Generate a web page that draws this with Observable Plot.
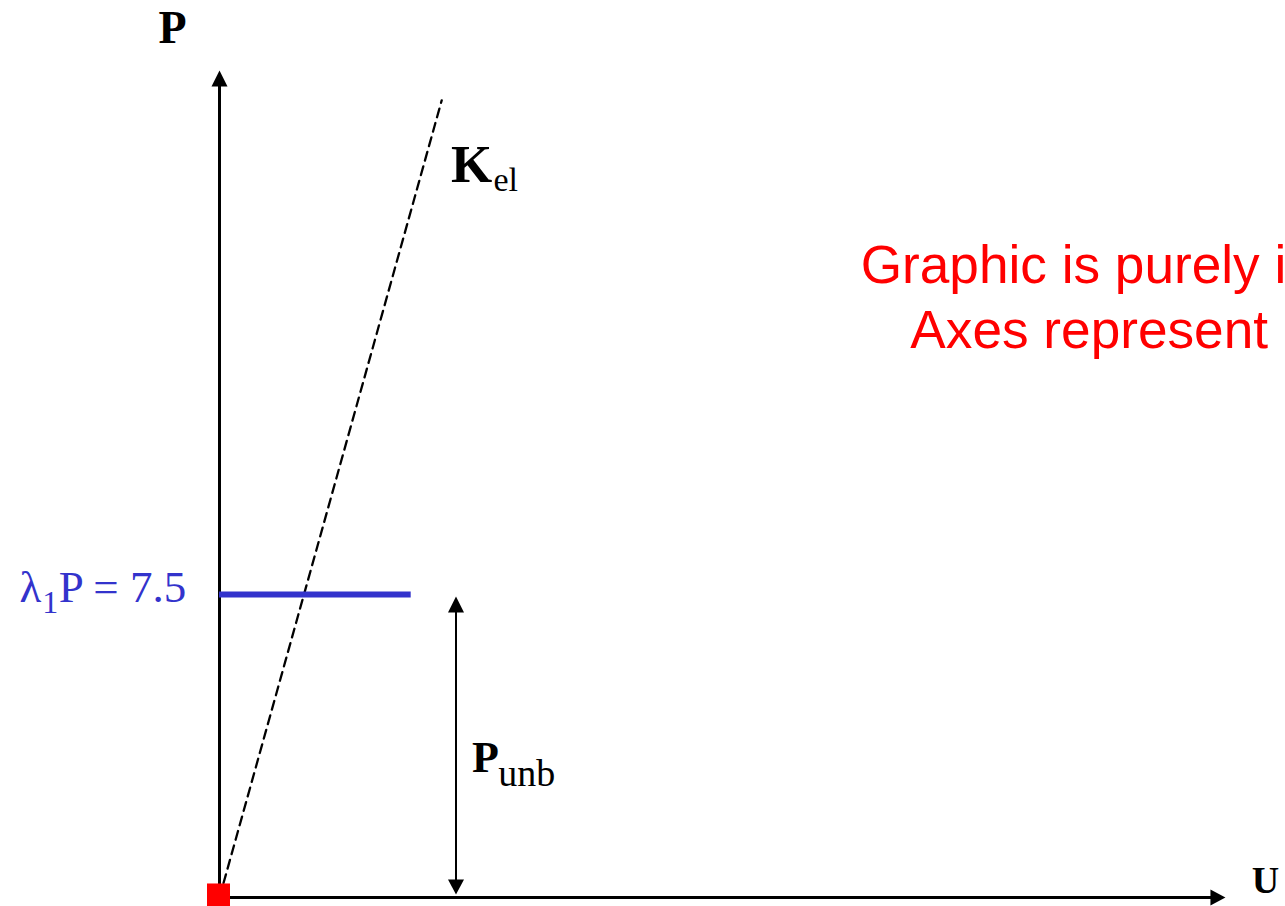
<!DOCTYPE html>
<html><head><meta charset="utf-8">
<script src="https://cdn.jsdelivr.net/npm/d3@7"></script>
<script src="https://cdn.jsdelivr.net/npm/@observablehq/plot@0.6"></script>
<style>html,body{margin:0;padding:0;background:#fff;overflow:hidden;} #chart svg{display:block;}</style>
</head><body><div id="chart"></div>
<script>
// ---- data (chart units) ----
const axisU = [0, 24.9];        // horizontal U axis extent
const axisP = [0, 20.47];       // vertical P axis extent
const kelU = [0, 5.5];          // elastic stiffness line K_el
const kelP = [0, 19.73];
const lambdaP = 7.5;            // λ1P level
const loadU = [0, 4.745];       // extent of the λ1P line
const punbU = 5.854;            // position of the P_unb dimension arrow

const serifLabels = [
  {text: "P",   u: -1.163, p: 21.14, size: 46, weight: "bold",   color: "#000", anchor: "middle"},
  {text: "U",   u: 25.55,  p: 0.10,  size: 38, weight: "bold",   color: "#000", anchor: "start"},
  {text: "K",   u: 5.73,   p: 17.71, size: 53, weight: "bold",   color: "#000", anchor: "start"},
  {text: "el",  u: 6.78,   p: 17.50, size: 34, weight: "normal", color: "#000", anchor: "start"},
  {text: "P",   u: 6.25,   p: 3.10,  size: 44, weight: "bold",   color: "#000", anchor: "start"},
  {text: "unb", u: 6.90,   p: 2.77,  size: 38, weight: "normal", color: "#000", anchor: "start"},
  {text: "λ",   u: -4.95,  p: 7.31,  size: 45, weight: "normal", color: "#3333cc", anchor: "start"},
  {text: "1",   u: -4.39,  p: 7.03,  size: 32, weight: "normal", color: "#3333cc", anchor: "start"},
  {text: "P = 7.5", u: -3.98, p: 7.31, size: 45, weight: "normal", color: "#3333cc", anchor: "start"}
];
const noteLines = [
  {text: "Graphic is purely i", u: 15.87, p: 15.20},
  {text: "Axes represent",      u: 17.10, p: 13.61}
];

// ---- arrowhead symbols (tip at the anchor point) ----
const triUp = {draw(c){ c.moveTo(0,0); c.lineTo(-8,16); c.lineTo(8,16); c.closePath(); }};
const triDown = {draw(c){ c.moveTo(0,0); c.lineTo(-8,-15); c.lineTo(8,-15); c.closePath(); }};
const triRight = {draw(c){ c.moveTo(0,0); c.lineTo(-15,-8); c.lineTo(-15,8); c.closePath(); }};

const kel = kelU.map((u, i) => ({u, p: kelP[i]}));

const marks = [
  // axes
  Plot.ruleX([axisU[0]], {y1: axisP[1], y2: axisP[0], stroke: "#000", strokeWidth: 3, insetTop: 10}),
  Plot.ruleY([axisP[0]], {x1: axisU[0], x2: axisU[1], stroke: "#000", strokeWidth: 3, insetRight: 10}),
  Plot.dot([{u: axisU[0], p: axisP[1]}], {x: "u", y: "p", symbol: triUp, r: 6, fill: "#000", stroke: "none"}),
  Plot.dot([{u: axisU[1], p: axisP[0]}], {x: "u", y: "p", symbol: triRight, r: 6, fill: "#000", stroke: "none"}),
  // K_el dashed line
  Plot.line(kel, {x: "u", y: "p", stroke: "#000", strokeWidth: 2.3, strokeDasharray: "9,6"}),
  // λ1P level
  Plot.ruleY([lambdaP], {x1: loadU[0], x2: loadU[1], stroke: "#3333cc", strokeWidth: 6}),
  // P_unb dimension arrow
  Plot.ruleX([punbU], {y1: lambdaP, y2: 0, stroke: "#000", strokeWidth: 2, insetTop: 12, insetBottom: 12}),
  Plot.dot([{u: punbU, p: lambdaP}], {x: "u", y: "p", symbol: triUp, r: 6, fill: "#000", stroke: "none", dy: 2}),
  Plot.dot([{u: punbU, p: 0}], {x: "u", y: "p", symbol: triDown, r: 6, fill: "#000", stroke: "none", dy: -3}),
  // origin marker
  Plot.dot([{u: 0, p: 0}], {x: "u", y: "p", symbol: "square", r: 13, fill: "#ff0000", stroke: "none", dx: -1, dy: -2.5}),
  // serif labels
  ...serifLabels.map(d => Plot.text([d], {
    x: "u", y: "p", text: "text", fill: d.color, fontSize: d.size, fontWeight: d.weight,
    fontFamily: "Liberation Serif", textAnchor: d.anchor, lineAnchor: "bottom"
  })),
  // red note
  Plot.text(noteLines, {x: "u", y: "p", text: "text", fill: "#ff0000", fontSize: 53.2,
    fontFamily: "Liberation Sans", textAnchor: "start", lineAnchor: "bottom"})
];

const chart = Plot.plot({
  width: 1285, height: 906,
  marginTop: 0, marginRight: 0, marginBottom: 0, marginLeft: 0,
  x: {domain: [0, 25], range: [219, 1229], axis: null},
  y: {domain: [0, 7.5], range: [897, 594], axis: null},
  style: {background: "#fff", overflow: "hidden"},
  marks
});
document.getElementById("chart").appendChild(chart);
</script>
</body></html>
